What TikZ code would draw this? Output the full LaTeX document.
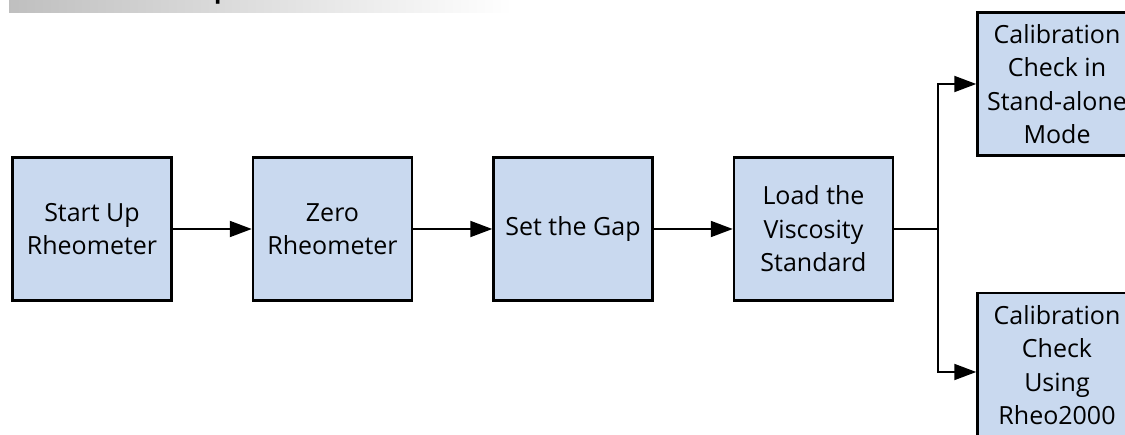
\documentclass[tikz,border=0pt]{standalone}
\usepackage{fontspec}
\setmainfont{Open Sans}
\usepackage{xcolor}
\usetikzlibrary{arrows.meta,positioning}
\definecolor{stepBlue}{RGB}{201,217,239}
\tikzset{
    stepBox/.style={
        draw,
        line width=2.5pt,
        fill=stepBlue,
        align=center,
        inner sep=2pt,
        minimum width=159pt,
        minimum height=143pt,
        font=\fontsize{25}{33.5}\selectfont
    },
    flowArrow/.style={
        -{Triangle[length=22pt,width=16pt]},
        line width=2pt
    },
    flowLine/.style={
        line width=2pt
    }
}
\begin{document}
\begin{tikzpicture}[x=1pt,y=1pt,node distance=79pt]
        \useasboundingbox (0,0) rectangle (1125,434);
        % heading strip, cut at the top
        \shade[left color=black!25,right color=white] (9,421) rectangle (512,434);
        \node[anchor=base west,inner sep=0pt,font=\fontsize{24}{28}\selectfont\bfseries] (title) at (214,435) {p};

        \node[stepBox] (startup) at (92,205) {Start Up\\Rheometer};
        \node[stepBox,right=of startup] (zero) {Zero\\Rheometer};
        \node[stepBox,right=of zero] (gap) {Set the Gap};
        \node[stepBox,right=of gap] (load) {Load the\\Viscosity\\Standard};

        \node[stepBox] (standalone) at (1057,350) {Calibration\\Check in\\Stand-alone\\Mode};
        \node[stepBox,minimum height=144pt] (rheo) at (1057,69) {Calibration\\Check\\Using\\Rheo2000};
        \coordinate (split) at (938,205);

        \draw[flowArrow] (startup) -- (zero);
        \draw[flowArrow] (zero) -- (gap);
        \draw[flowArrow] (gap) -- (load);
        \draw[flowLine] (load) -- (split);
        \draw[flowArrow] (split) |- (standalone.west);
        \draw[flowArrow] (split) |- ([yshift=-7pt]rheo.west);
    \end{tikzpicture}
\end{document}
